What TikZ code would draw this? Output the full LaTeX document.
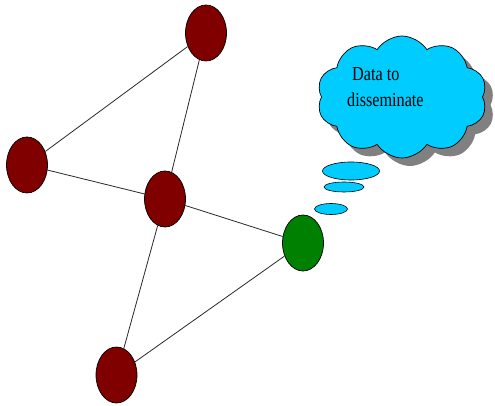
\documentclass[tikz,border=0pt]{standalone}
\usepackage{fontspec}
\setmainfont{Liberation Serif}
\usetikzlibrary{shapes.symbols,shapes.geometric}
\definecolor{maroonfill}{RGB}{128,0,0}
\definecolor{greenfill}{RGB}{0,128,0}
\definecolor{cloudfill}{RGB}{0,204,255}
\definecolor{shadowgray}{RGB}{128,128,128}
\definecolor{edgegray}{RGB}{40,40,40}
\begin{document}
\begin{tikzpicture}[x=1pt,y=-1pt,
  vertex/.style={ellipse, draw=black, line width=0.7pt, minimum width=41pt, minimum height=56pt, inner sep=0pt},
  redv/.style={vertex, fill=maroonfill},
  greenv/.style={vertex, fill=greenfill},
  link/.style={draw=edgegray, line width=0.8pt},
  puff/.style={cloud, cloud puffs=10, cloud puff arc=115, minimum width=170pt, minimum height=122pt, inner sep=0pt, aspect=1.4},
  bubble/.style={ellipse, draw=black, line width=0.6pt, fill=cloudfill, inner sep=0pt},
  cloudtext/.style={font=\fontsize{18}{18}\selectfont, xscale=0.9, yscale=1.1, inner sep=0pt, anchor=base west}
]
\useasboundingbox (0,0) rectangle (495,406);
% nodes
\node[redv] (top) at (206,33) {};
\node[redv] (left) at (27,165) {};
\node[redv] (mid) at (165,199) {};
\node[greenv] (sink) at (303,243) {};
\node[redv] (bot) at (116.5,375) {};
% links
\path[link] (top) -- (left);
\path[link] (top) -- (mid);
\path[link] (left) -- (mid);
\path[link] (mid) -- (sink);
\path[link] (mid) -- (bot);
\path[link] (bot) -- (sink);
% cloud
\node[puff, fill=shadowgray] (cloudshadow) at (410,105) {};
\node[puff, draw=black, line width=0.7pt, fill=cloudfill] (thought) at (402,97) {};
\node[cloudtext] (t1) at (352,81) {Data to};
\node[cloudtext] (t2) at (347,107) {disseminate};
% bubbles
\node[bubble, minimum width=57pt, minimum height=18pt] (b1) at (351,171) {};
\node[bubble, minimum width=40pt, minimum height=10pt] (b2) at (344,187) {};
\node[bubble, minimum width=33pt, minimum height=11pt] (b3) at (331,209) {};
\end{tikzpicture}
\end{document}
